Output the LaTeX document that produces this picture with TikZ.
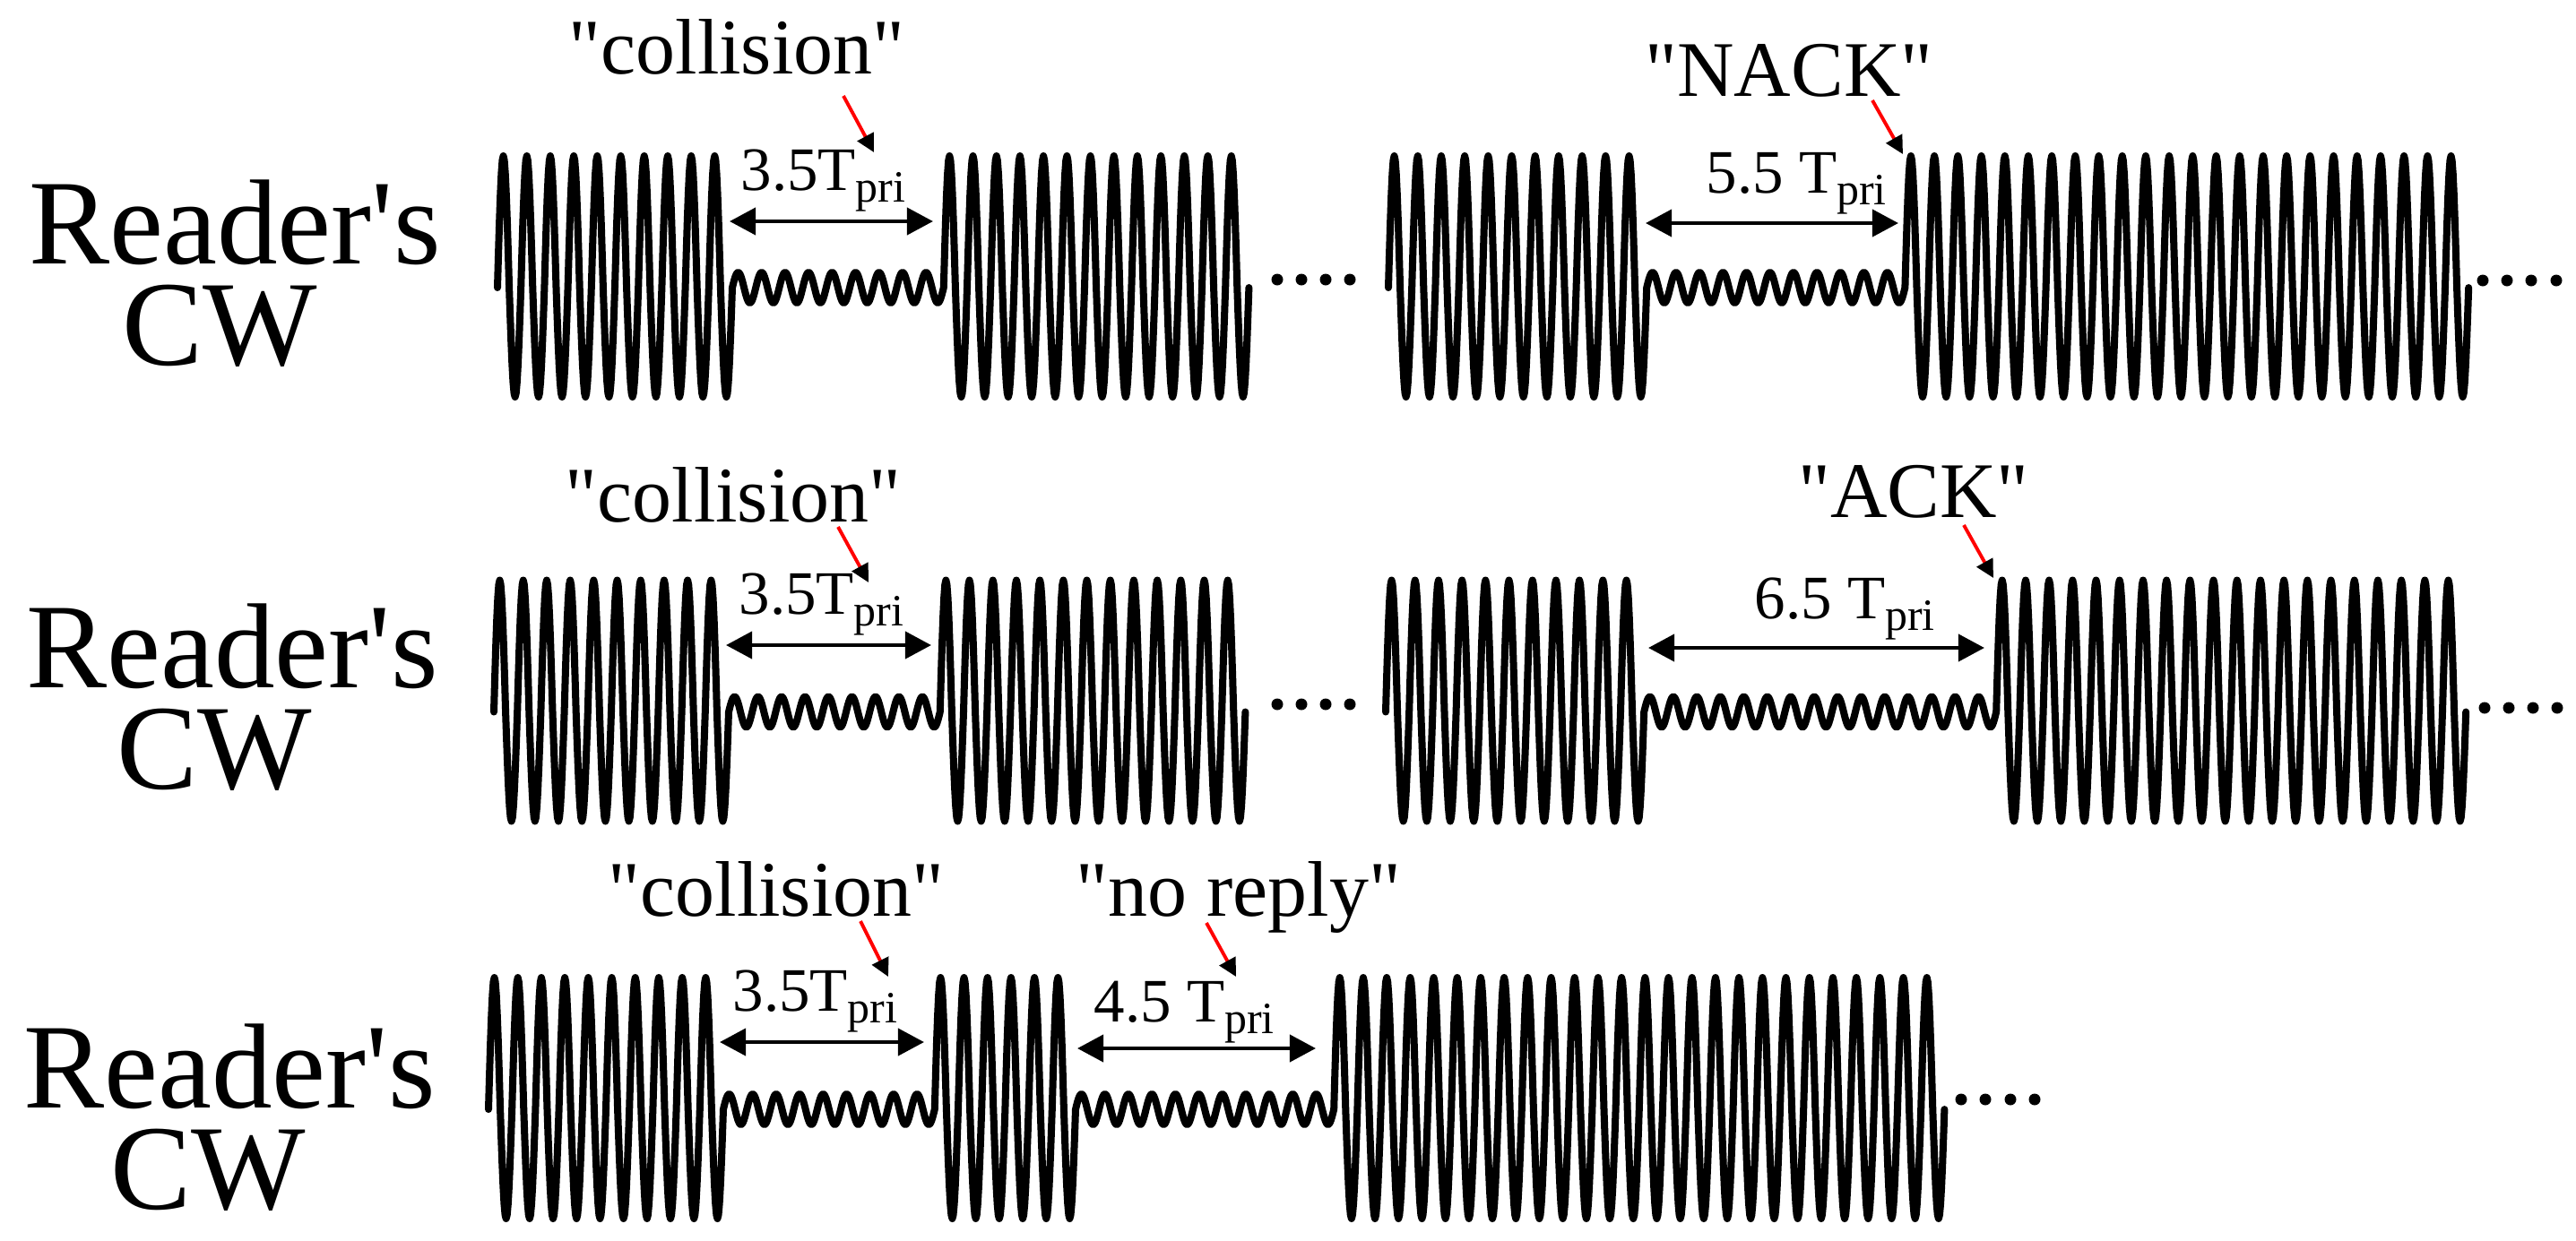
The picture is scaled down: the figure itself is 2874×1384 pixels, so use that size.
\documentclass[tikz,border=0pt]{standalone}
\usepackage{fontspec}
\setmainfont{Liberation Serif}[Ligatures=TeXOff]
\usetikzlibrary{arrows.meta}
% wave segments (continue the path): start x, end x, baseline, samples
\newcommand\bigseg[4]{-- plot[domain=#1:#2,samples=#4] (\x,{#3-134.5*sin((\x-#1)*13.7405)-12.5*abs(sin((\x-#1)*13.7405))})}
\newcommand\smlseg[4]{-- plot[domain=#1:#2,samples=#4] (\x,{#3-17*sin((\x-#1)*13.7405)})}
\newcommand\ivsub[1]{\raisebox{-3.7pt}{\fontsize{14.2}{15}\selectfont #1}}
\tikzset{
  rowlab/.style={font=\fontsize{38.4}{31.87}\selectfont, inner sep=0pt, anchor=base, align=center},
  qlabel/.style={font=\fontsize{25}{27}\selectfont, inner sep=0pt, anchor=base},
  ivl/.style={font=\fontsize{19.6}{21}\selectfont, inner sep=0pt, anchor=base west},
  wave/.style={line width=2.28pt, line join=round, line cap=round},
  dbl/.style={line width=1.4pt, {Triangle[length=8.3pt,width=8.5pt]}-{Triangle[length=8.3pt,width=8.5pt]}},
  redarr/.style={red, line width=1.1pt, -{Triangle[length=5.7pt,width=5.7pt,color=black]}},
  dotfill/.style={fill=black}
}
\begin{document}
\begin{tikzpicture}[x=0.01cm,y=-0.01cm]
\useasboundingbox (0,0) rectangle (2874,1384);

% ---------------- Row 1 ----------------
\node[rowlab] (rl1) at (262,407) {Reader's\\CW\kern9.7pt};
\draw[wave] (555,321) \bigseg{555}{817}{321}{241} \smlseg{817}{1052.8}{321}{217} \bigseg{1052.8}{1393.4}{321}{313};
\foreach \dx in {1425,1452,1479,1506} \fill[dotfill] (\dx,312) circle[radius=1.85pt];
\draw[wave] (1549,321) \bigseg{1549}{1837.2}{321}{265} \smlseg{1837.2}{2125.4}{321}{265} \bigseg{2125.4}{2754.2}{321}{577};
\foreach \dx in {2770,2797,2824,2852} \fill[dotfill] (\dx,313) circle[radius=1.85pt];

\node[qlabel] (q1a) at (822,82) {"collision"};
\node[ivl] (i1a) at (826,212) {3.5T\ivsub{pri}};
\coordinate (a1aL) at (814,247); \coordinate (a1aR) at (1041,247);
\draw[dbl] (a1aL) -- (a1aR);
\coordinate (r1aS) at (941,107); \coordinate (r1aT) at (975,170);
\draw[redarr] (r1aS) -- (r1aT);

\node[qlabel] (q1b) at (1996,107) {"NACK"};
\node[ivl] (i1b) at (1903,215) {5.5 T\ivsub{pri}};
\coordinate (a1bL) at (1836,249); \coordinate (a1bR) at (2118,249);
\draw[dbl] (a1bL) -- (a1bR);
\coordinate (r1bS) at (2089,112); \coordinate (r1bT) at (2123,172);
\draw[redarr] (r1bS) -- (r1bT);

% ---------------- Row 2 ----------------
\node[rowlab] (rl2) at (259,880) {Reader's\\CW\kern11pt};
\draw[wave] (551,794.5) \bigseg{551}{813}{794.5}{241} \smlseg{813}{1048.8}{794.5}{217} \bigseg{1048.8}{1389.4}{794.5}{313};
\foreach \dx in {1425,1452,1479,1506} \fill[dotfill] (\dx,786) circle[radius=1.85pt];
\draw[wave] (1546,794.5) \bigseg{1546}{1834.2}{794.5}{265} \smlseg{1834.2}{2227.2}{794.5}{361} \bigseg{2227.2}{2751.2}{794.5}{481};
\foreach \dx in {2772,2799,2826,2853} \fill[dotfill] (\dx,790) circle[radius=1.85pt];

\node[qlabel] (q2a) at (818,582) {"collision"};
\node[ivl] (i2a) at (824,685) {3.5T\ivsub{pri}};
\coordinate (a2aL) at (810,720); \coordinate (a2aR) at (1039,720);
\draw[dbl] (a2aL) -- (a2aR);
\coordinate (r2aS) at (935,588); \coordinate (r2aT) at (969,650);
\draw[redarr] (r2aS) -- (r2aT);

\node[qlabel] (q2b) at (2135,577) {"ACK"};
\node[ivl] (i2b) at (1957,690) {6.5 T\ivsub{pri}};
\coordinate (a2bL) at (1839,723); \coordinate (a2bR) at (2214,723);
\draw[dbl] (a2bL) -- (a2bR);
\coordinate (r2bS) at (2191,586); \coordinate (r2bT) at (2224,645);
\draw[redarr] (r2bS) -- (r2bT);

% ---------------- Row 3 ----------------
\node[rowlab] (rl3) at (256,1349) {Reader's\\CW\kern13.5pt};
\draw[wave] (545,1238) \bigseg{545}{807}{1238}{241} \smlseg{807}{1042.8}{1238}{217} \bigseg{1042.8}{1200}{1238}{145} \smlseg{1200}{1488.2}{1238}{265} \bigseg{1488.2}{2169.4}{1238}{625};
\foreach \dx in {2188,2215,2243,2270} \fill[dotfill] (\dx,1227) circle[radius=1.85pt];

\node[qlabel] (q3a) at (866,1022) {"collision"};
\node[ivl] (i3a) at (817,1128) {3.5T\ivsub{pri}};
\coordinate (a3aL) at (803,1163); \coordinate (a3aR) at (1031,1163);
\draw[dbl] (a3aL) -- (a3aR);
\coordinate (r3aS) at (960,1028); \coordinate (r3aT) at (991,1090);
\draw[redarr] (r3aS) -- (r3aT);

\node[qlabel] (q3b) at (1382,1022) {"no reply"};
\node[ivl] (i3b) at (1220,1140) {4.5 T\ivsub{pri}};
\coordinate (a3bL) at (1202,1170); \coordinate (a3bR) at (1468,1170);
\draw[dbl] (a3bL) -- (a3bR);
\coordinate (r3bS) at (1346,1030); \coordinate (r3bT) at (1379,1090);
\draw[redarr] (r3bS) -- (r3bT);
\end{tikzpicture}
\end{document}
